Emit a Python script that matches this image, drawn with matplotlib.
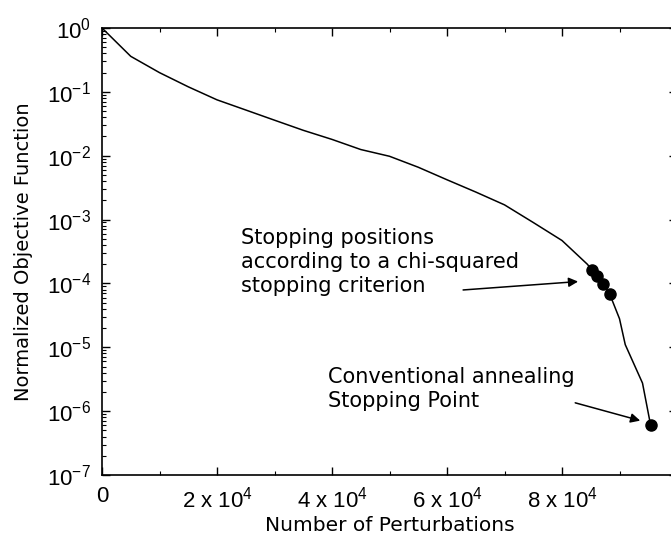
import matplotlib
matplotlib.use('Agg')
import matplotlib.pyplot as plt
from matplotlib.ticker import FixedLocator, LogLocator, NullFormatter

# objective function vs perturbations
perturbations = [0, 5000, 10000, 15000, 20000, 25000, 30000, 35000, 40000,
                 45000, 50000, 55000, 60000, 65000, 70000, 75000, 80000,
                 84400, 85300, 86000, 87200, 88300, 90000, 91000, 94000, 95400]
objective = [1.0, 0.36, 0.2, 0.12, 0.075, 0.052, 0.036, 0.025, 0.018,
             0.0125, 0.0098, 0.0066, 0.0042, 0.0027, 0.0017, 9e-4, 4.7e-4,
             2.0e-4, 1.6e-4, 1.3e-4, 9.8e-5, 6.8e-5, 2.8e-5, 1.1e-5, 2.75e-6, 6.1e-7]

chi_x = [85300, 86000, 87200, 88300]
chi_y = [1.6e-4, 1.3e-4, 9.8e-5, 6.8e-5]
conv_x = [95400]
conv_y = [6.1e-7]

xticks = [0, 20000, 40000, 60000, 80000]
xticklabels = ['0', r'2 x 10$^4$', r'4 x 10$^4$', r'6 x 10$^4$', r'8 x 10$^4$']

plt.rcParams['font.family'] = ['DejaVu Sans']
plt.rcParams['mathtext.fontset'] = 'custom'
plt.rcParams['mathtext.rm'] = 'Liberation Sans'
tick_font = ['Liberation Sans', 'DejaVu Sans']

fig = plt.figure(figsize=(6.71, 5.4), dpi=100)
ax = fig.add_axes([102/671, 1 - 475/540, 575/671, 447/540])

ax.plot(perturbations, objective, color='black', lw=1.1)
ax.plot(chi_x, chi_y, 'o', color='black', ms=8)
ax.plot(conv_x, conv_y, 'o', color='black', ms=8)

ax.set_yscale('log')
ax.set_xlim(0, 100000)
ax.set_ylim(1e-7, 1)

ax.xaxis.set_major_locator(FixedLocator(xticks))
ax.set_xticklabels(xticklabels)
ax.xaxis.set_minor_locator(FixedLocator([10000, 30000, 50000, 70000, 90000]))
ax.yaxis.set_major_locator(LogLocator(base=10, numticks=10))
ax.yaxis.set_minor_locator(LogLocator(base=10, subs=range(2, 10), numticks=20))
ax.yaxis.set_minor_formatter(NullFormatter())

ax.tick_params(which='both', direction='in', top=True, right=True, labelsize=16, pad=8)
ax.tick_params(which='major', length=6, width=1)
ax.tick_params(which='minor', length=3, width=0.8)
for lab in ax.get_xticklabels() + ax.get_yticklabels():
    lab.set_family(tick_font)
for s in ax.spines.values():
    s.set_linewidth(1.2)

ax.set_xlabel('Number of Perturbations', fontsize=14.5, labelpad=3)
ax.set_ylabel('Normalized Objective Function', fontsize=14, labelpad=10)

ax.text(24200, 2.2e-4, 'Stopping positions\naccording to a chi-squared\nstopping criterion',
        fontsize=15, va='center', ha='left', linespacing=1.25)
ax.annotate('', xy=(82800, 1.07e-4), xytext=(62800, 7.9e-5),
            arrowprops=dict(arrowstyle='-|>', color='black', lw=1.1,
                            shrinkA=0, shrinkB=0, mutation_scale=14))
ax.text(39300, 2.2e-6, 'Conventional annealing\nStopping Point',
        fontsize=15, va='center', ha='left', linespacing=1.25)
ax.annotate('', xy=(93600, 7.1e-7), xytext=(82300, 1.35e-6),
            arrowprops=dict(arrowstyle='-|>', color='black', lw=1.1,
                            shrinkA=0, shrinkB=0, mutation_scale=14))

fig.savefig('out.png', dpi=100)
